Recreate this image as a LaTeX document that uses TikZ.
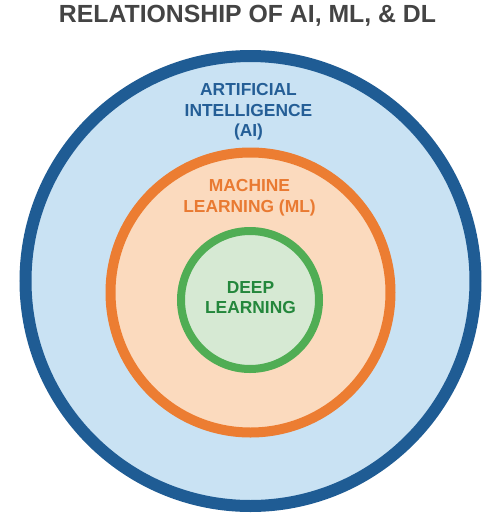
\documentclass[tikz,border=0pt]{standalone}
\usepackage{fontspec}
\setmainfont{Liberation Sans}
\definecolor{aiblue}{RGB}{31,92,148}
\definecolor{aifill}{RGB}{201,226,243}
\definecolor{aitext}{RGB}{36,94,150}
\definecolor{mlorange}{RGB}{236,125,50}
\definecolor{mlfill}{RGB}{251,218,190}
\definecolor{mltext}{RGB}{233,122,50}
\definecolor{dlgreen}{RGB}{80,173,84}
\definecolor{dlfill}{RGB}{214,233,211}
\definecolor{dltext}{RGB}{36,135,60}
\definecolor{titlegray}{RGB}{68,68,68}
\tikzset{
  ring/.style={circle, inner sep=0pt, outer sep=0pt},
  lbl/.style={align=center, font=\bfseries\fontsize{17.4}{20.5}\selectfont, inner sep=0pt}
}
\begin{document}
\begin{tikzpicture}[x=1pt,y=-1pt]
\useasboundingbox (0,0) rectangle (495,515);
\fill[white] (0,0) rectangle (495,515);
\node[anchor=center, font=\bfseries\fontsize{24.8}{28}\selectfont, text=titlegray, inner sep=0pt] (title) at (247.5,15.5) {RELATIONSHIP OF AI, ML, \& DL};
\node[ring, draw=aiblue, fill=aifill, line width=12pt, minimum size=450pt] (ai) at (250.5,281) {};
\node[ring, draw=mlorange, fill=mlfill, line width=10pt, minimum size=280pt] (ml) at (250.5,292.5) {};
\node[ring, draw=dlgreen, fill=dlfill, line width=8pt, minimum size=138pt] (dl) at (250,300) {};
\node[lbl, text=aitext] (ailbl) at (248.5,112) {ARTIFICIAL\\INTELLIGENCE\\(AI)};
\node[lbl, text=mltext] (mllbl) at (249.5,197.5) {MACHINE\\LEARNING (ML)};
\node[lbl, text=dltext] (dllbl) at (250.5,297.5) {DEEP\\LEARNING};
\end{tikzpicture}
\end{document}
